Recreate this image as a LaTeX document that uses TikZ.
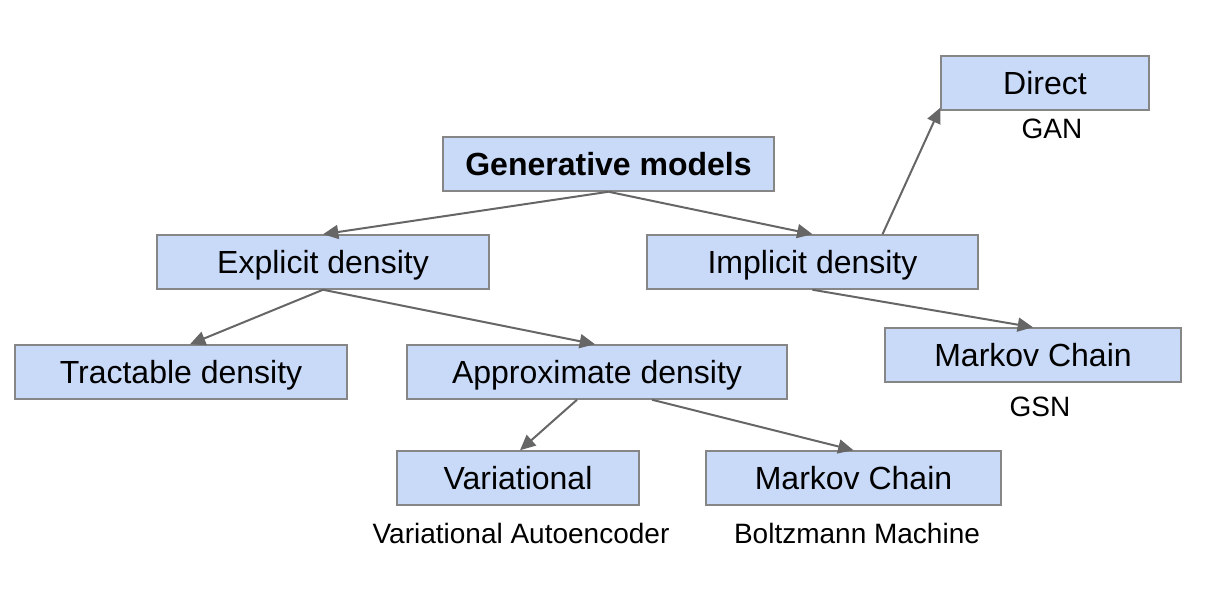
\documentclass[tikz,border=0pt]{standalone}
\usepackage{fontspec}
\setmainfont{Liberation Sans}
\usetikzlibrary{arrows.meta}

\newlength{\du}
\setlength{\du}{0.75pt}

\definecolor{boxfill}{HTML}{C9DAF8}
\definecolor{boxline}{HTML}{868686}
\definecolor{linkline}{HTML}{666666}

\tikzset{
  catbox/.style={draw=boxline, line width=1.5\du, fill=boxfill, inner sep=0pt,
    minimum height=54\du, text height=17.2pt, text depth=0pt,
    font=\fontsize{24}{28}\selectfont},
  modelnote/.style={inner sep=0pt, anchor=base, font=\fontsize{21}{25}\selectfont},
  link/.style={draw=linkline, line width=1.5pt, -{Triangle[length=11.5pt,width=10.5pt]}},
}

\begin{document}
\begin{tikzpicture}
\pgftransformxscale{1.000000}
\pgftransformyscale{-1.000000}
\useasboundingbox (0\du,0\du) rectangle (1218\du,596\du);
% boxes
\node[catbox, minimum width=331\du, font=\fontsize{24}{28}\selectfont\bfseries] (gen) at (608.5\du,164\du){Generative models};
\node[catbox, minimum width=332\du] (explicit) at (323\du,262\du){Explicit density};
\node[catbox, minimum width=331\du] (implicit) at (812.5\du,262\du){Implicit density};
\node[catbox, minimum width=208\du] (direct) at (1045\du,83\du){Direct};
\node[catbox, minimum width=332\du] (tractable) at (181\du,372\du){Tractable density};
\node[catbox, minimum width=380\du] (approx) at (597\du,372\du){Approximate density};
\node[catbox, minimum width=296\du] (markovgsn) at (1033\du,355\du){Markov Chain};
\node[catbox, minimum width=242\du] (variational) at (518\du,478\du){Variational};
\node[catbox, minimum width=295\du] (markovbm) at (853.5\du,478\du){Markov Chain};
% model names
\node[modelnote] (gan) at (1052\du,138\du){GAN};
\node[modelnote] (gsn) at (1040\du,416\du){GSN};
\node[modelnote] (vae) at (521\du,543\du){Variational Autoencoder};
\node[modelnote] (bm) at (857\du,543\du){Boltzmann Machine};
% links
\draw[link] (gen.south) -- (explicit.north);
\draw[link] (gen.south) -- (implicit.north);
\draw[link] (explicit.south) -- ([xshift=9\du]tractable.north);
\draw[link] (explicit.south) -- ([xshift=-2\du]approx.north);
\draw[link] ([xshift=70\du]implicit.north) -- ([yshift=-3\du]direct.south west);
\draw[link] (implicit.south) -- (markovgsn.north);
\draw[link] ([xshift=-20\du]approx.south) -- ([xshift=2\du]variational.north);
\draw[link] ([xshift=55\du]approx.south) -- (markovbm.north);
\end{tikzpicture}
\end{document}
